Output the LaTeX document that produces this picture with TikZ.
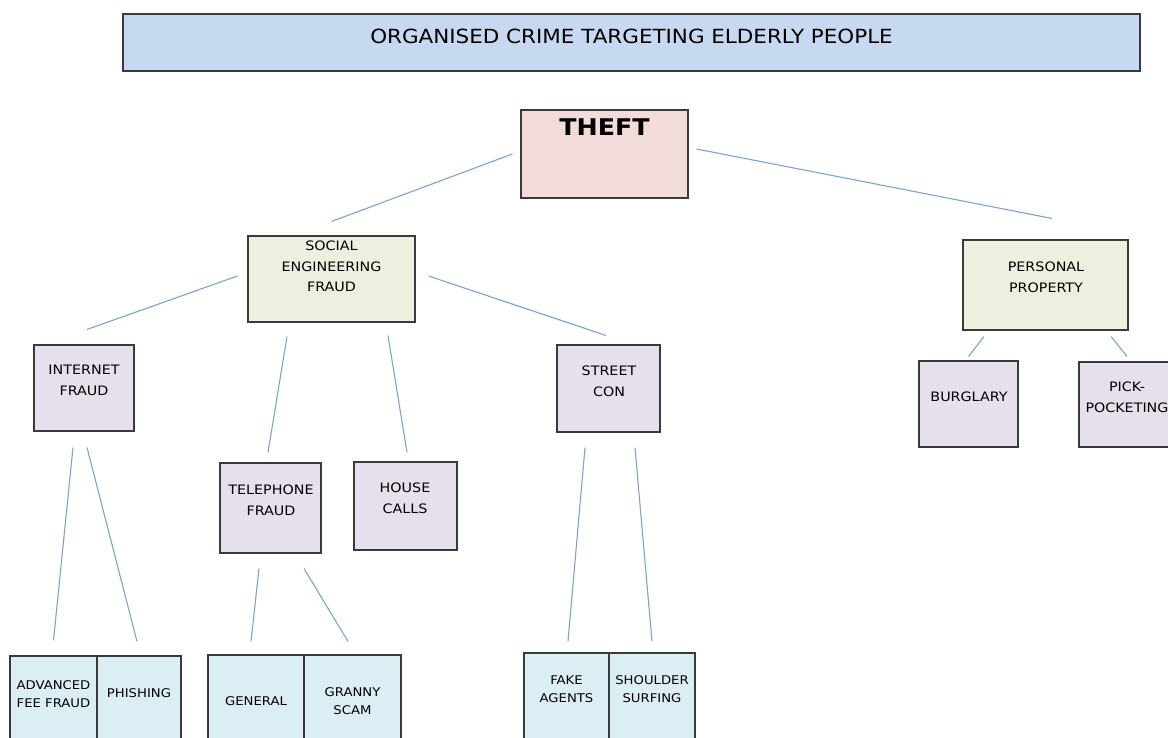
\documentclass[tikz,border=0pt]{standalone}
\usepackage{fontspec}
\setmainfont{DejaVu Sans}[FakeStretch=1.1]
\usepackage{tikz}
\usetikzlibrary{positioning}

\definecolor{boxline}{HTML}{3A3A3A}
\definecolor{linkline}{HTML}{7EA3D3}
\definecolor{titlefill}{HTML}{C6D9F1}
\definecolor{rootfill}{HTML}{F2DCDB}
\definecolor{midfill}{HTML}{EBF1DE}
\definecolor{lowfill}{HTML}{E5E0EC}
\definecolor{leaffill}{HTML}{DBEEF4}

\tikzset{
	box/.style={draw=boxline, line width=1.1pt, inner sep=0pt},
	txt/.style={align=center, inner sep=0pt, font=\fontsize{13}{20.5}\selectfont},
	smalltxt/.style={txt, font=\fontsize{12}{18}\selectfont},
	link/.style={draw=linkline, line width=1.1pt}
}

\begin{document}
\begin{tikzpicture}[x=1pt, y=-1pt]
	\useasboundingbox (0,0) rectangle (1168,738);
	\clip (0,0) rectangle (1168,738);

	% boxes
	\node[box, fill=titlefill, minimum width=1017, minimum height=57] (title) at (631.5,42.5) {};
	\node[box, fill=rootfill, minimum width=167, minimum height=88] (theft) at (604.5,154) {};
	\node[box, fill=midfill, minimum width=167, minimum height=86] (social) at (331.5,279) {};
	\node[box, fill=midfill, minimum width=165, minimum height=90] (personal) at (1045.5,285) {};
	\node[box, fill=lowfill, minimum width=100, minimum height=86] (internet) at (84,388) {};
	\node[box, fill=lowfill, minimum width=103, minimum height=87] (street) at (608.5,388.5) {};
	\node[box, fill=lowfill, minimum width=99, minimum height=86] (burglary) at (968.5,404) {};
	\node[box, fill=lowfill, minimum width=96, minimum height=85] (pick) at (1127,404.5) {};
	\node[box, fill=lowfill, minimum width=101, minimum height=90] (telephone) at (270.5,508) {};
	\node[box, fill=lowfill, minimum width=103, minimum height=88] (house) at (405.5,506) {};
	\node[box, fill=leaffill, minimum width=87, minimum height=90] (advanced) at (53.5,701) {};
	\node[box, fill=leaffill, minimum width=84, minimum height=90] (phishing) at (139,701) {};
	\node[box, fill=leaffill, minimum width=96, minimum height=90] (general) at (256,700) {};
	\node[box, fill=leaffill, minimum width=97, minimum height=90] (granny) at (352.5,700) {};
	\node[box, fill=leaffill, minimum width=85, minimum height=90] (fake) at (566.5,698) {};
	\node[box, fill=leaffill, minimum width=86, minimum height=90] (shoulder) at (652,698) {};

	% texts
	\node[txt, font=\fontsize{19.5}{24}\selectfont] (title-t) at (631.5,36) {ORGANISED CRIME TARGETING ELDERLY PEOPLE};
	\node[txt, font=\fontsize{23}{28}\selectfont\bfseries] (theft-t) at (604.5,127) {THEFT};
	\node[txt] (social-t) at (331.5,266.5) {SOCIAL\\ENGINEERING\\FRAUD};
	\node[txt] (personal-t) at (1046,277.5) {PERSONAL\\PROPERTY};
	\node[txt] (internet-t) at (84,380.5) {INTERNET\\FRAUD};
	\node[txt] (street-t) at (609,381.5) {STREET\\CON};
	\node[txt] (burglary-t) at (969,397) {BURGLARY};
	\node[txt] (pick-t) at (1127,397.5) {PICK-\\POCKETING};
	\node[txt] (telephone-t) at (271,500.5) {TELEPHONE\\FRAUD};
	\node[txt] (house-t) at (405,498.5) {HOUSE\\CALLS};
	\node[smalltxt] (advanced-t) at (53.5,694) {ADVANCED\\FEE FRAUD};
	\node[smalltxt] (phishing-t) at (139,693) {PHISHING};
	\node[smalltxt] (general-t) at (256,701) {GENERAL};
	\node[smalltxt] (granny-t) at (352.5,701) {GRANNY\\SCAM};
	\node[smalltxt] (fake-t) at (566.5,689) {FAKE\\AGENTS};
	\node[smalltxt] (shoulder-t) at (652,689) {SHOULDER\\SURFING};

	% connectors
	\draw[link] ([xshift=-8]theft.west) -- ([yshift=14]social.north);
	\draw[link] ([xshift=8,yshift=5]theft.east) -- ([xshift=6.5,yshift=21]personal.north);
	\draw[link] ([xshift=-10,yshift=3]social.west) -- ([xshift=3,yshift=15]internet.north);
	\draw[link] ([xshift=13,yshift=3]social.east) -- ([xshift=-2.5,yshift=9]street.north);
	\draw[link] ([xshift=-44.5,yshift=-14]social.south) -- ([xshift=-2.5,yshift=10]telephone.north);
	\draw[link] ([xshift=56.5,yshift=-13]social.south) -- ([xshift=1.5,yshift=9]house.north);
	\draw[link] ([xshift=-11,yshift=-16]internet.south) -- ([yshift=15]advanced.north);
	\draw[link] ([xshift=3,yshift=-16]internet.south) -- ([xshift=-2,yshift=14]phishing.north);
	\draw[link] ([xshift=-11.5,yshift=-15]telephone.south) -- ([xshift=-5,yshift=13]general.north);
	\draw[link] ([xshift=33.5,yshift=-15]telephone.south) -- ([xshift=-4.5,yshift=13]granny.north);
	\draw[link] ([xshift=-23.5,yshift=-15]street.south) -- ([xshift=1.5,yshift=11]fake.north);
	\draw[link] ([xshift=26.5,yshift=-15]street.south) -- ([yshift=11]shoulder.north);
	\draw[link] ([xshift=-61.5,yshift=-6]personal.south) -- ([yshift=4]burglary.north);
	\draw[link] ([xshift=65.5,yshift=-6]personal.south) -- ([yshift=5]pick.north);
\end{tikzpicture}
\end{document}
